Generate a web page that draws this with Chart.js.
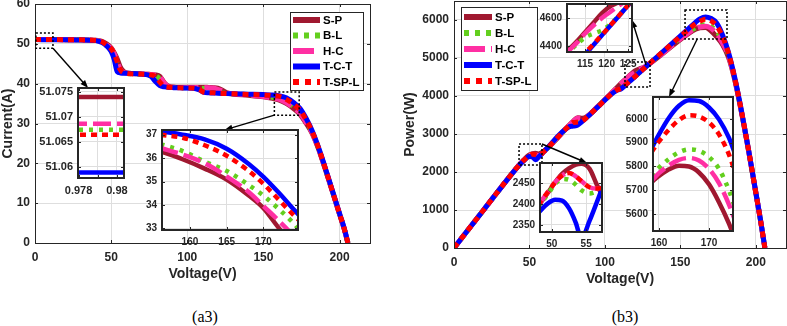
<!DOCTYPE html>
<html>
<head>
<meta charset="utf-8">
<title>I-V and P-V curves</title>
<script src="https://cdn.jsdelivr.net/npm/chart.js@4.4.1/dist/chart.umd.min.js"></script>
<style>
  html, body { margin: 0; padding: 0; background: #fff; }
  #page { position: relative; width: 787px; height: 326px; overflow: hidden; }
  #page canvas { position: absolute; }
  .caption { position: absolute; top: 308px; width: 60px; text-align: center;
             font: 16px "Liberation Serif", "Times New Roman", serif; color: #000; }
</style>
</head>
<body>
<div id="page">
  <div class="caption" style="left:175px">(a3)</div>
  <div class="caption" style="left:595px">(b3)</div>
</div>
<script>
// series order everywhere: S-P, B-L, H-C, T-C-T, T-SP-L
var labels = ['S-P', 'B-L', 'H-C', 'T-C-T', 'T-SP-L'];
var colors = ['#A01830', '#63CF1E', '#FF2FA3', '#0000FF', '#FF0000'];
var dashes = [[], [4, 6], [18, 6], [], [6, 5]];
var legendDashes = [[], [5, 6], [21, 6], [], [6, 6]];

// (a3) current vs voltage
var voltA = [0, 10, 20, 30, 40, 44, 47, 50, 52, 54, 56, 60, 70, 76, 79, 82, 85, 88, 91, 95,
  104, 108, 111, 114, 117, 120, 123, 126, 130, 140, 150, 156, 160, 165, 170, 174,
  178, 182, 186, 190, 195, 200, 203, 205.5];
var currentSP = [51.074, 51.065, 51.055, 51.0, 50.88, 50.6, 50.0, 49.0, 47.8, 46.2, 44.2,
  42.7, 42.45, 42.3, 42.2, 41.8, 40.2, 39.3, 39.15, 39.1,
  39.1, 39.1, 39.1, 39.05, 39.0, 38.85, 38.35, 37.7, 37.4,
  37.1, 36.7, 36.3, 35.95, 35.05, 33.7, 32.3,
  30.1, 27.5, 23.8, 19.3, 13.3, 7.2, 3.6, 0];
var currentBL = [51.067, 51.06, 51.05, 51.0, 50.85, 50.5, 49.6, 48.7, 47.3, 45.1, 43.3,
  42.55, 42.4, 42.2, 42.0, 41.1, 39.4, 39.15, 39.05, 39.0,
  38.9, 38.85, 38.8, 38.7, 38.4, 37.8, 37.6, 37.55, 37.45,
  37.2, 36.9, 36.55, 36.25, 35.4, 34.2, 32.9,
  30.6, 27.9, 24.0, 19.4, 13.4, 7.3, 3.7, 0];
var currentHC = [51.069, 51.06, 51.05, 51.0, 50.85, 50.5, 49.7, 48.8, 47.5, 45.5, 43.5,
  42.65, 42.45, 42.3, 42.15, 41.7, 40.1, 39.2, 39.1, 39.05,
  39.05, 39.05, 39.05, 39.0, 38.9, 38.55, 38.2, 37.75, 37.45,
  37.15, 36.75, 36.4, 36.1, 35.25, 33.9, 32.6,
  30.3, 27.7, 23.9, 19.4, 13.4, 7.25, 3.65, 0];
var currentTCT = [51.06, 51.05, 51.04, 50.99, 50.8, 50.3, 49.5, 48.1, 46.1, 43.0, 42.7,
  42.6, 42.4, 41.9, 40.6, 39.5, 39.2, 39.05, 39.0, 38.95,
  38.85, 38.4, 37.8, 37.7, 37.65, 37.6, 37.55, 37.5, 37.45,
  37.35, 37.25, 37.15, 36.95, 36.45, 35.2, 33.8,
  31.3, 28.2, 24.2, 19.6, 13.5, 7.4, 3.8, 0];
var currentTSPL = [51.066, 51.06, 51.05, 51.0, 50.85, 50.5, 49.7, 48.8, 47.5, 45.5, 43.5,
  42.6, 42.4, 42.2, 41.8, 40.4, 39.3, 39.1, 39.0, 38.95,
  38.88, 38.5, 37.85, 37.75, 37.7, 37.6, 37.55, 37.5, 37.45,
  37.3, 37.2, 37.0, 36.86, 36.1, 34.8, 33.4,
  31.0, 28.0, 24.1, 19.5, 13.4, 7.3, 3.7, 0];

// (b3) power vs voltage
var voltB = [0, 20, 40, 44, 47, 50, 52, 54, 56, 60, 76, 79, 82, 85, 88, 95, 104, 108, 111, 114,
  117, 120, 123, 126, 130, 156, 160, 163, 166.7, 170, 174, 178, 182, 186, 190, 195, 200, 203, 206];
var powerSP = [0, 1021, 2035, 2226, 2350, 2450, 2486, 2495, 2475, 2562, 3215, 3334, 3428, 3417, 3458,
  3715, 4066, 4223, 4340, 4452, 4563, 4662, 4717, 4750, 4862, 5663, 5755, 5795, 5800, 5725,
  5560, 5350, 5010, 4430, 3670, 2600, 1445, 750, 0];
var powerBL = [0, 1021, 2034, 2222, 2331, 2435, 2460, 2435, 2425, 2553, 3207, 3318, 3370, 3349, 3445,
  3705, 4046, 4196, 4307, 4412, 4493, 4536, 4625, 4731, 4869, 5702, 5795, 5850, 5873, 5840,
  5700, 5450, 5080, 4465, 3690, 2615, 1458, 755, 0];
var powerHC = [0, 1021, 2034, 2222, 2336, 2440, 2470, 2457, 2436, 2559, 3215, 3330, 3419, 3409, 3450,
  3710, 4061, 4212, 4340, 4446, 4551, 4626, 4699, 4757, 4869, 5680, 5775, 5815, 5836, 5790,
  5640, 5390, 5050, 4450, 3685, 2612, 1452, 752, 0];
var powerTCT = [0, 1021, 2032, 2213, 2327, 2405, 2397, 2322, 2391, 2556, 3184, 3207, 3239, 3332, 3436,
  3700, 4040, 4147, 4196, 4298, 4405, 4512, 4619, 4725, 4869, 5795, 5935, 6030, 6080, 6048,
  5920, 5600, 5135, 4490, 3710, 2628, 1466, 765, 0];
var powerTSPL = [0, 1021, 2034, 2222, 2336, 2440, 2470, 2457, 2436, 2556, 3207, 3302, 3313, 3341, 3441,
  3700, 4044, 4158, 4201, 4303, 4411, 4512, 4619, 4725, 4869, 5772, 5900, 5970, 6017, 5985,
  5850, 5560, 5110, 4475, 3700, 2620, 1460, 760, 0];

// insets, one row per series in the order of labels
var zoomA1Volt = [0.9775, 0.981];
var zoomA1Current = [[51.0740, 51.0740], [51.0674, 51.0674], [51.0686, 51.0686],
  [51.0588, 51.0588], [51.0664, 51.0664]];
var zoomA2Volt = [156, 159, 162, 165, 168, 170, 172, 174, 175];
var zoomA2Current = [
  [36.29, 35.95, 35.55, 35.08, 34.4, 33.86, 33.05, 32.3, 31.9],
  [36.6, 36.3, 35.85, 35.45, 34.85, 34.4, 33.85, 33.25, 32.9],
  [36.43, 36.15, 35.78, 35.22, 34.55, 33.95, 33.35, 32.7, 32.3],
  [37.15, 37.0, 36.8, 36.4, 35.75, 35.2, 34.55, 33.85, 33.5],
  [37.0, 36.87, 36.55, 36.1, 35.45, 34.9, 34.25, 33.6, 33.3]];
var zoomBTVolt = [110.5, 113, 115, 117, 119, 121, 123, 125, 126.5];
var zoomBTPower = [
  [4350, 4430, 4500, 4570, 4640, 4690, 4720, 4750, 4770],
  [4330, 4410, 4462, 4490, 4515, 4560, 4625, 4696, 4750],
  [4345, 4420, 4490, 4550, 4605, 4650, 4696, 4740, 4770],
  [4175, 4265, 4336, 4408, 4480, 4551, 4623, 4695, 4749],
  [4200, 4290, 4350, 4415, 4483, 4553, 4624, 4696, 4750]];
var zoomBRVolt = [158.5, 160, 162, 164, 166, 168, 170, 172, 174, 175];
var zoomBRPower = [
  [5735, 5760, 5788, 5803, 5800, 5775, 5725, 5650, 5560, 5505],
  [5760, 5795, 5832, 5860, 5872, 5866, 5840, 5790, 5700, 5640],
  [5740, 5772, 5805, 5828, 5836, 5825, 5790, 5730, 5640, 5585],
  [5875, 5935, 6005, 6055, 6078, 6075, 6048, 5998, 5920, 5865],
  [5860, 5905, 5955, 5995, 6015, 6010, 5985, 5935, 5850, 5790]];
var zoomBLVolt = [48, 49.5, 50.5, 51.5, 52.5, 53.5, 54.3, 55.5, 56.5, 57.5];
var zoomBLPower = [
  [2395, 2428, 2452, 2472, 2485, 2494, 2496, 2484, 2448, 2415],
  [2392, 2425, 2448, 2460, 2458, 2446, 2433, 2425, 2430, 2440],
  [2396, 2430, 2452, 2468, 2474, 2466, 2455, 2440, 2437, 2438],
  [2378, 2402, 2410, 2408, 2390, 2355, 2318, 2360, 2402, 2445],
  [2397, 2430, 2452, 2468, 2474, 2466, 2455, 2440, 2437, 2438]];

// dotted zoom windows on the main axes: [xmin, xmax, ymin, ymax]
var zoomBoxesA = [[0.6, 11.8, 48.9, 52.7], [157.2, 173.5, 32.1, 37.9]];
var zoomBoxesB = [[113.3, 129.9, 4237, 4895], [153.1, 180.9, 5500, 6263], [43.1, 58.3, 2184, 2737]];

var INK = '#262626';
var GRID = '#dedede';
var FONT = 'Liberation Sans, Arial, sans-serif';

// page-pixel layout of the plot boxes
var plotA = {l: 35, t: 4, r: 370, b: 243};
var plotB = {l: 454, t: 1, r: 786, b: 248};
var insA1 = {l: 78, t: 88, r: 124, b: 178, yw: 44, xh: 22, fs: 11};
var insA2 = {l: 162, t: 130, r: 298, b: 230, yw: 30, xh: 22, fs: 10};
var insBT = {l: 567, t: 4, r: 632, b: 52, yw: 36, xh: 20, fs: 10};
var insBR = {l: 653, t: 97, r: 733, b: 231, yw: 36, xh: 20, fs: 10};
var insBL = {l: 540, t: 163, r: 602, b: 232, yw: 36, xh: 20, fs: 10};

function makeCanvas(left, top, w, h) {
  var c = document.createElement('canvas');
  c.width = w; c.height = h;
  c.style.left = left + 'px'; c.style.top = top + 'px';
  c.style.width = w + 'px'; c.style.height = h + 'px';
  document.getElementById('page').appendChild(c);
  return c;
}

function buildSets(xs, rows, lw, clip) {
  return rows.map(function (ys, i) {
    return {
      label: labels[i],
      data: xs.map(function (x, j) { return {x: x, y: ys[j]}; }),
      borderColor: colors[i],
      borderWidth: lw,
      borderDash: dashes[i],
      borderCapStyle: 'butt',
      pointRadius: 0,
      fill: false,
      cubicInterpolationMode: 'monotone',
      clip: clip,
      order: 5 - i
    };
  });
}

function arrow(ctx, x1, y1, x2, y2) {
  var ang = Math.atan2(y2 - y1, x2 - x1), L = 8, W = 3;
  ctx.beginPath(); ctx.moveTo(x1, y1);
  ctx.lineTo(x2 - Math.cos(ang) * L * 0.8, y2 - Math.sin(ang) * L * 0.8); ctx.stroke();
  ctx.beginPath(); ctx.moveTo(x2, y2);
  ctx.lineTo(x2 - Math.cos(ang) * L + Math.sin(ang) * W, y2 - Math.sin(ang) * L - Math.cos(ang) * W);
  ctx.lineTo(x2 - Math.cos(ang) * L - Math.sin(ang) * W, y2 - Math.sin(ang) * L + Math.cos(ang) * W);
  ctx.closePath(); ctx.fill();
}

function decor(cfg) {
  return {
    id: 'decor',
    beforeDraw: function (chart) {
      if (!cfg.white) return;
      var a = chart.chartArea, ctx = chart.ctx;
      ctx.save(); ctx.fillStyle = '#fff';
      ctx.fillRect(a.left, a.top, a.right - a.left, a.bottom - a.top); ctx.restore();
    },
    afterDraw: function (chart) {
      var ctx = chart.ctx, a = chart.chartArea, sx = chart.scales.x, sy = chart.scales.y;
      ctx.save();
      ctx.setLineDash([]);
      ctx.strokeStyle = INK; ctx.lineWidth = 1;
      ctx.beginPath();
      sx.ticks.forEach(function (t) {
        var p = Math.round(sx.getPixelForValue(t.value)) + 0.5;
        ctx.moveTo(p, a.bottom); ctx.lineTo(p, a.bottom - cfg.tick);
        ctx.moveTo(p, a.top); ctx.lineTo(p, a.top + cfg.tick);
      });
      sy.ticks.forEach(function (t) {
        var p = Math.round(sy.getPixelForValue(t.value)) + 0.5;
        ctx.moveTo(a.left, p); ctx.lineTo(a.left + cfg.tick, p);
        ctx.moveTo(a.right, p); ctx.lineTo(a.right - cfg.tick, p);
      });
      ctx.stroke();
      ctx.lineWidth = cfg.frame;
      var o = cfg.frame % 2 ? 0.5 : 0;
      ctx.strokeRect(Math.round(a.left) + o, Math.round(a.top) + o,
        Math.round(a.right - a.left), Math.round(a.bottom - a.top));

      var rects = (cfg.boxes || []).map(function (b) {
        return {l: sx.getPixelForValue(b[0]), r: sx.getPixelForValue(b[1]),
                t: sy.getPixelForValue(b[3]), b: sy.getPixelForValue(b[2])};
      });
      ctx.strokeStyle = '#000'; ctx.lineWidth = 1.5; ctx.setLineDash([2, 2]);
      rects.forEach(function (r) { ctx.strokeRect(r.l, r.t, r.r - r.l, r.b - r.t); });

      ctx.setLineDash([]); ctx.lineWidth = 1.4; ctx.fillStyle = '#000';
      (cfg.arrows || []).forEach(function (ar) {
        var r = rects[ar.box], ins = ar.inset;
        var x1 = r.l + (r.r - r.l) * ar.from[0], y1 = r.t + (r.b - r.t) * ar.from[1];
        var x2 = ins.l + (ins.r - ins.l) * ar.to[0] - cfg.offX;
        var y2 = ins.t + (ins.b - ins.t) * ar.to[1];
        arrow(ctx, x1, y1, x2, y2);
      });

      if (cfg.legend) {
        var L = cfg.legend;
        var x0 = L.right ? a.right - L.dx - L.w : a.left + L.dx, y0 = a.top + L.dy;
        ctx.fillStyle = '#fff'; ctx.fillRect(x0, y0, L.w, L.h);
        ctx.strokeStyle = INK; ctx.lineWidth = 1;
        ctx.strokeRect(Math.round(x0) + 0.5, Math.round(y0) + 0.5, L.w, L.h);
        labels.forEach(function (lab, i) {
          var y = y0 + L.first + i * L.step;
          ctx.beginPath(); ctx.setLineDash(legendDashes[i]);
          ctx.strokeStyle = colors[i]; ctx.lineWidth = 6; ctx.lineCap = 'butt';
          ctx.moveTo(x0 + 3, y); ctx.lineTo(x0 + L.len, y); ctx.stroke();
          ctx.setLineDash([]);
          ctx.fillStyle = '#000'; ctx.font = 'bold 11.5px ' + FONT;
          ctx.textBaseline = 'middle'; ctx.textAlign = 'left';
          ctx.fillText(lab, x0 + L.text, y + 0.5);
        });
      }
      ctx.restore();
    }
  };
}

function axis(opts) {
  var horiz = opts.horiz;
  return {
    type: 'linear', min: opts.min, max: opts.max,
    afterBuildTicks: function (s) {
      var list = [], k = Math.ceil(opts.min / opts.step - 1e-9);
      for (var v = k * opts.step; v <= opts.max + 1e-9; v = (++k) * opts.step) {
        list.push({value: Math.round(v * 1e6) / 1e6});
      }
      s.ticks = list;
    },
    afterFit: function (s) {
      if (horiz) { s.height = opts.size; s.paddingLeft = 0; s.paddingRight = 0; }
      else { s.width = opts.size; s.paddingTop = 0; s.paddingBottom = 0; }
    },
    ticks: {
      autoSkip: false, maxRotation: 0,
      padding: opts.pad, color: INK,
      font: {family: FONT, size: opts.fs, weight: 'bold'},
      callback: opts.fmt || function (v) { return String(v); }
    },
    grid: {color: GRID, drawTicks: false},
    border: {display: false},
    title: opts.title ? {display: true, text: opts.title, color: INK, padding: 0,
      font: {family: FONT, size: 14, weight: 'bold'}} : {display: false}
  };
}

function mainChart(c) {
  var H = 326, xh = 40;
  var cv = makeCanvas(c.left, 0, c.width, H);
  return new Chart(cv, {
    type: 'line',
    data: {datasets: buildSets(c.xs, c.rows, 5, undefined)},
    options: {
      responsive: false, animation: false, events: [],
      layout: {padding: {left: c.padLeft, right: c.left + c.width - c.plot.r,
        top: c.plot.t, bottom: H - c.plot.b - xh}},
      plugins: {legend: {display: false}, tooltip: {enabled: false}},
      scales: {
        x: axis({horiz: true, min: 0, max: 220, step: 50, size: xh, pad: 7, fs: 12, title: 'Voltage(V)'}),
        y: axis({horiz: false, min: c.ymin, max: c.ymax, step: c.ystep,
          size: c.plot.l - c.left - c.padLeft, pad: 5, fs: 12, title: c.ytitle})
      }
    },
    plugins: [decor({tick: 3, frame: 1, boxes: c.boxes, arrows: c.arrows, legend: c.legend, offX: c.left})]
  });
}

function insetChart(box, xs, rows, xr, yr, xfmt) {
  var padTop = 6, padRight = 10;
  var left = box.l - box.yw, top = box.t - padTop;
  var w = box.yw + (box.r - box.l) + padRight, h = padTop + (box.b - box.t) + box.xh;
  var cv = makeCanvas(left, top, w, h);
  return new Chart(cv, {
    type: 'line',
    data: {datasets: buildSets(xs, rows, 4.5, 0)},
    options: {
      responsive: false, animation: false, events: [],
      layout: {padding: {left: 0, right: padRight, top: padTop, bottom: 0}},
      plugins: {legend: {display: false}, tooltip: {enabled: false}},
      scales: {
        x: axis({horiz: true, min: xr[0], max: xr[1], step: xr[2], size: box.xh, pad: 6, fs: box.fs, fmt: xfmt}),
        y: axis({horiz: false, min: yr[0], max: yr[1], step: yr[2], size: box.yw, pad: 5, fs: box.fs,
          fmt: function (v) { return String(Number(v.toFixed(3))); }})
      }
    },
    plugins: [decor({tick: 3, frame: 2, white: true, offX: 0})]
  });
}

mainChart({
  left: 0, width: 393, padLeft: 0, plot: plotA,
  xs: voltA, rows: [currentSP, currentBL, currentHC, currentTCT, currentTSPL],
  ymin: 0, ymax: 60, ystep: 10, ytitle: 'Current(A)',
  boxes: zoomBoxesA,
  arrows: [{box: 0, from: [1, 1], inset: insA1, to: [0.22, 0]},
           {box: 1, from: [0, 1], inset: insA2, to: [0.46, 0]}],
  legend: {right: true, dx: 7, dy: 8, w: 73, h: 78, first: 8, step: 15.5, len: 30, text: 33}
});

mainChart({
  left: 393, width: 394, padLeft: 9, plot: plotB,
  xs: voltB, rows: [powerSP, powerBL, powerHC, powerTCT, powerTSPL],
  ymin: 0, ymax: 6500, ystep: 1000, ytitle: 'Power(W)',
  boxes: zoomBoxesB,
  arrows: [{box: 0, from: [0.84, 0.12], inset: insBT, to: [1, 0.33]},
           {box: 1, from: [0.29, 1], inset: insBR, to: [0.2, 0]},
           {box: 2, from: [1, 0], inset: insBL, to: [0.76, 0]}],
  legend: {right: false, dx: 7, dy: 6, w: 76, h: 83, first: 10, step: 16, len: 31, text: 34}
});

insetChart(insA1, zoomA1Volt, zoomA1Current, [0.97797, 0.98037, 0.001], [51.0577, 51.0758, 0.005],
  function (v) { return Math.abs(v - 0.979) < 1e-7 ? '' : String(v); });
insetChart(insA2, zoomA2Volt, zoomA2Current, [156.2, 174.7, 5], [32.93, 37.2, 1]);
insetChart(insBT, zoomBTVolt, zoomBTPower, [110.8, 125.9, 5], [4356, 4704, 200]);
insetChart(insBR, zoomBRVolt, zoomBRPower, [158.8, 174.8, 10], [5529, 6092, 100]);
insetChart(insBL, zoomBLVolt, zoomBLPower, [48.3, 57.3, 5], [2333, 2498, 50]);
</script>
</body>
</html>
